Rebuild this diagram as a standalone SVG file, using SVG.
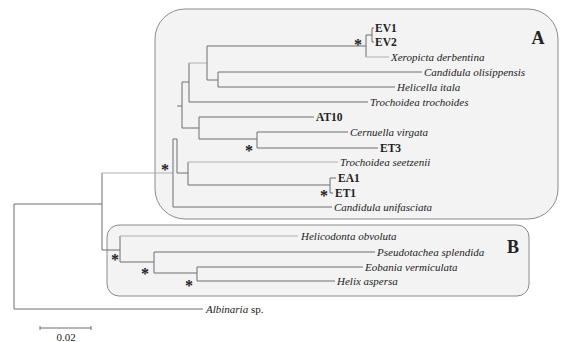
<svg xmlns="http://www.w3.org/2000/svg" width="562" height="342" viewBox="0 0 562 342">
<style>
.box{fill:#f3f3f3;stroke:#8a8a8a;stroke-width:1}
.br{fill:none;stroke:#6e6e6e;stroke-width:1}
.lt{fill:none;stroke:#b0b0b0;stroke-width:1}
.sp{font-family:"Liberation Serif",serif;font-style:italic;font-size:11px;fill:#222}
.bd{font-family:"Liberation Serif",serif;font-weight:bold;font-size:11.5px;fill:#222}
.st{font-family:"Liberation Serif",serif;font-weight:bold;font-size:16px;fill:#222;text-anchor:middle}
.cl{font-family:"Liberation Serif",serif;font-weight:bold;font-size:18px;fill:#222;text-anchor:middle}
.sc{font-family:"Liberation Serif",serif;font-size:11px;fill:#222;text-anchor:middle}
</style>
<g id="cladeA"><rect class="box" x="155" y="9" width="403" height="210" rx="30" ry="30"/><text class="cl" x="538" y="44">A</text></g>
<g id="cladeB"><rect class="box" x="107" y="225" width="422" height="71" rx="12" ry="12"/><text class="cl" x="513" y="253">B</text></g>
<g id="connectors">
<path class="br" d="M14,309V204H102M102,173V250H120"/>
<path class="lt" d="M102,173H173"/>
<path class="br" d="M173,139V207H332M173,139H177V173H188M177,106H182"/>
<path class="br" d="M188,162V185H330M330,178V193M330,178H336M330,193H333"/>
<path class="lt" d="M188,162H338"/>
<path class="br" d="M182,82V128H199M182,82H189M199,117V139H257M199,117H314M257,132V148M257,132H348M257,148H378"/>
<path class="br" d="M189,63V102H368"/>
<path class="lt" d="M189,63H207"/>
<path class="br" d="M207,46V80H218M207,46H366M218,72V87M218,72H422M218,87H395"/>
<path class="br" d="M366,35V57M366,35H372M372,28V42M372,28H374M372,42H374"/>
<path class="lt" d="M366,57H389"/>
<path class="br" d="M120,236V262H154M154,252V273H197M154,252H375M197,267V281M197,267H363M197,281H335"/>
<path class="lt" d="M120,236H298"/>
<path class="br" d="M14,309H203"/>
<path class="br" d="M40,328H91M40,326V330M91,326V330"/>
</g>
<g id="labels">
<text class="bd" x="375" y="32">EV1</text>
<text class="bd" x="375" y="46">EV2</text>
<text class="sp" x="391" y="61">Xeropicta derbentina</text>
<text class="sp" x="424" y="76">Candidula olisippensis</text>
<text class="sp" x="397" y="91">Helicella itala</text>
<text class="sp" x="370" y="106">Trochoidea trochoides</text>
<text class="bd" x="316" y="121">AT10</text>
<text class="sp" x="350" y="136">Cernuella virgata</text>
<text class="bd" x="380" y="152">ET3</text>
<text class="sp" x="340" y="166">Trochoidea seetzenii</text>
<text class="bd" x="338" y="182">EA1</text>
<text class="bd" x="335" y="197">ET1</text>
<text class="sp" x="334" y="211">Candidula unifasciata</text>
<text class="sp" x="301" y="240">Helicodonta obvoluta</text>
<text class="sp" x="377" y="256">Pseudotachea splendida</text>
<text class="sp" x="365" y="271">Eobania vermiculata</text>
<text class="sp" x="337" y="285">Helix aspersa</text>
<text class="sp" x="206" y="313">Albinaria<tspan font-style="normal"> sp.</tspan></text>
<text class="sc" x="66" y="341">0.02</text>
</g>
<g id="support">
<text class="st" x="358" y="50">*</text>
<text class="st" x="249" y="156">*</text>
<text class="st" x="165" y="175">*</text>
<text class="st" x="324" y="201">*</text>
<text class="st" x="115" y="265">*</text>
<text class="st" x="145" y="279">*</text>
<text class="st" x="189" y="291">*</text>
</g>
</svg>
